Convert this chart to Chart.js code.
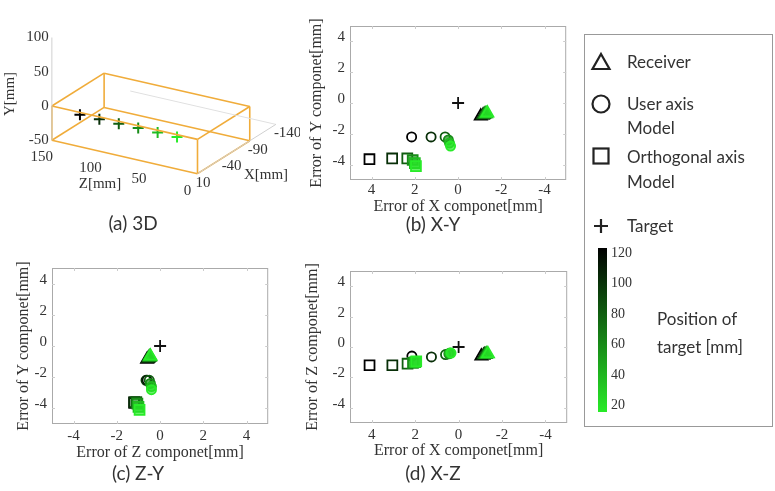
<!DOCTYPE html>
<html><head><meta charset="utf-8">
<script src="https://cdn.jsdelivr.net/npm/chart.js@4.4.0/dist/chart.umd.min.js"></script>
<style>
html,body{margin:0;padding:0;background:#fff;}
body{width:775px;height:491px;overflow:hidden;position:relative;}
.cap{position:absolute;font-family:Lato,'Open Sans',sans-serif;font-size:19px;color:#333;white-space:nowrap;transform:translate(-50%,-50%);}
.lt{position:absolute;font-family:Lato,'Open Sans',sans-serif;font-size:17px;color:#333;white-space:nowrap;transform:translateY(-50%);}
.cb{position:absolute;font-family:'Liberation Serif',serif;font-size:14px;color:#333;white-space:nowrap;transform:translateY(-50%);}
#legend{position:absolute;left:584px;top:34px;width:189px;height:393px;border:1px solid #999;box-sizing:border-box;}
svg{position:absolute;overflow:visible;}
</style></head><body>
<div id="legend"></div>
<script>
// ---------- data ----------
const positions = [120, 100, 80, 60, 40, 20];          // target position [mm]
const receiverX = [-1.05, -1.15, -1.2, -1.25, -1.3, -1.35];
const receiverY = [-0.85, -0.8, -0.75, -0.7, -0.7, -0.65];
const receiverZ = [-0.6, -0.55, -0.5, -0.5, -0.45, -0.45];
const userX = [2.15, 1.25, 0.6, 0.45, 0.4, 0.35];
const userY = [-2.2, -2.2, -2.2, -2.4, -2.6, -2.8];
const userZ = [-0.6, -0.65, -0.5, -0.45, -0.4, -0.4];
const orthoX = [4.1, 3.05, 2.35, 2.1, 2.0, 1.95];
const orthoY = [-3.65, -3.6, -3.6, -3.7, -3.9, -4.1];
const orthoZ = [-1.2, -1.2, -1.1, -1.05, -1.0, -0.95];
const targetErrX = [0], targetErrY = [0], targetErrZ = [0];
const errTicks = [-4, -2, 0, 2, 4];
// 3D view
const target3dX = [12, 12, 12, 12, 12, 12];
const target3dY = [-2, -2, -2, -2, -2, -2];
const target3dZ = positions;
const boxX = [10, -90], boxY = [-50, 0], boxZ = [0, 150];
const tick3dX = [10, -40, -90, -140];
const tick3dY = [-50, 0, 50, 100];
const tick3dZ = [0, 50, 100, 150];
const colorbarTicks = [20, 40, 60, 80, 100, 120];

// ---------- helpers ----------
function colorFor(p, a) {
  const k = 1 - (p - 20) / 100;
  const r = Math.round(40 * k), g = Math.round(235 * k), b = Math.round(40 * k);
  return a === undefined ? `rgb(${r},${g},${b})` : `rgba(${r},${g},${b},${a})`;
}
const borderCols = positions.map(p => colorFor(p));
const fillCols = positions.map(p => p <= 60 ? colorFor(p, 0.7) : 'rgba(0,0,0,0)');
function makeCanvas(left, top, w, h) {
  const c = document.createElement('canvas');
  c.width = w; c.height = h;
  c.style.cssText = `position:absolute;left:${left}px;top:${top}px;width:${w}px;height:${h}px;`;
  document.body.appendChild(c);
  return c;
}
const SERIF = "'Liberation Serif', 'Times New Roman', serif";
const TXT = '#333';

const framePlugin = {
  id: 'frame',
  beforeDatasetsDraw(chart) {
    const {ctx, chartArea: a, scales} = chart;
    ctx.save();
    ctx.strokeStyle = '#aaa'; ctx.lineWidth = 1;
    ctx.strokeRect(a.left + 0.5, a.top + 0.5, a.width - 1, a.height - 1);
    ctx.strokeStyle = '#ccc';
    errTicks.forEach(v => {
      const px = Math.round(scales.x.getPixelForValue(v)) + 0.5;
      const py = Math.round(scales.y.getPixelForValue(v)) + 0.5;
      ctx.beginPath();
      ctx.moveTo(px, a.bottom); ctx.lineTo(px, a.bottom - 3);
      ctx.moveTo(px, a.top); ctx.lineTo(px, a.top + 3);
      ctx.moveTo(a.left, py); ctx.lineTo(a.left + 3, py);
      ctx.moveTo(a.right, py); ctx.lineTo(a.right - 3, py);
      ctx.stroke();
    });
    ctx.restore();
  }
};

function errChart(cv, plot, xs, ys, xReverse, xTitle, yTitle) {
  const c = makeCanvas(cv.left, cv.top, cv.w, cv.h);
  const pts = (a, b) => a.map((v, i) => ({x: v, y: b[i]}));
  const mk = (a, b, style, r) => ({
    data: pts(a, b), pointStyle: style, pointRadius: r, borderWidth: 1.8,
    pointBorderColor: borderCols, pointBackgroundColor: fillCols, showLine: false
  });
  new Chart(c, {
    type: 'scatter',
    data: { datasets: [
      mk(xs.ortho, ys.ortho, 'rect', 7),
      mk(xs.user, ys.user, 'circle', 4.6),
      mk(xs.recv, ys.recv, 'triangle', 7),
      { data: pts(xs.target, ys.target), pointStyle: 'cross', pointRadius: 6, borderWidth: 1.8,
        pointBorderColor: '#111', pointBackgroundColor: '#111' }
    ]},
    options: {
      responsive: false, animation: false, devicePixelRatio: 1,
      layout: { padding: { top: plot.top - cv.top, right: cv.left + cv.w - plot.right, left: 0, bottom: 0 } },
      plugins: { legend: { display: false }, tooltip: { enabled: false } },
      scales: {
        x: {
          type: 'linear', min: -5, max: 5, reverse: xReverse,
          afterBuildTicks: s => { s.ticks = errTicks.map(v => ({ value: v })); },
          afterFit: s => { s.height = cv.top + cv.h - plot.bottom; },
          grid: { display: false, drawTicks: false }, border: { display: false },
          ticks: { font: { family: SERIF, size: 15 }, color: TXT, padding: cv.tp, maxRotation: 0, autoSkip: false },
          title: { display: true, text: xTitle, font: { family: SERIF, size: 16 }, color: TXT, padding: { top: 0, bottom: 4 } }
        },
        y: {
          type: 'linear', min: -5, max: 5,
          afterBuildTicks: s => { s.ticks = errTicks.map(v => ({ value: v })); },
          afterFit: s => { s.width = plot.left - cv.left; },
          grid: { display: false, drawTicks: false }, border: { display: false },
          ticks: { font: { family: SERIF, size: 15 }, color: TXT, padding: 5, labelOffset: -4, autoSkip: false },
          title: { display: true, text: yTitle, font: { family: SERIF, size: 16 }, color: TXT, padding: { top: 4, bottom: 0 } }
        }
      }
    },
    plugins: [framePlugin]
  });
}

// (b) X-Y
errChart({left: 303, top: 8, w: 272, h: 212, tp: 1}, {left: 350, top: 26, right: 567, bottom: 180},
  {ortho: orthoX, user: userX, recv: receiverX, target: targetErrX},
  {ortho: orthoY, user: userY, recv: receiverY, target: targetErrY},
  true, 'Error of X componet[mm]', 'Error of Y componet[mm]');
// (c) Z-Y
errChart({left: 10, top: 250, w: 267, h: 216, tp: 3}, {left: 52, top: 268, right: 269, bottom: 424},
  {ortho: orthoZ, user: userZ, recv: receiverZ, target: targetErrZ},
  {ortho: orthoY, user: userY, recv: receiverY, target: targetErrY},
  false, 'Error of Z componet[mm]', 'Error of Y componet[mm]');
// (d) X-Z
errChart({left: 299, top: 252, w: 277, h: 212, tp: 3}, {left: 350, top: 271, right: 568, bottom: 423},
  {ortho: orthoX, user: userX, recv: receiverX, target: targetErrX},
  {ortho: orthoZ, user: userZ, recv: receiverZ, target: targetErrZ},
  true, 'Error of X componet[mm]', 'Error of Z componet[mm]');

// ---------- (a) 3D ----------
function proj(X, Y, Z) {
  return { x: 200 - 0.55 * (X - 10) - 1.022 * Z,
           y: 177 + 0.35 * (X - 10) - 0.73 * (Y + 50) - 0.237 * Z };
}
(function () {
  const W = 300, H = 245;
  const c = makeCanvas(0, 0, W, H);
  const ds = [];
  const line = (p, q, color, w) => ds.push({ data: [p, q], showLine: true, borderColor: color, borderWidth: w, pointRadius: 0 });
  // faint axis lines
  line(proj(10, -50, 150), proj(10, 100, 150), '#d0d0d0', 1);
  line(proj(10, -50, 0), proj(-140, -50, 0), '#d0d0d0', 1);
  line(proj(-140, -50, 0), proj(-140, -50, 150), '#e0e0e0', 1);
  // box edges
  const corners = [];
  boxX.forEach(x => boxY.forEach(y => boxZ.forEach(z => corners.push([x, y, z]))));
  for (let i = 0; i < corners.length; i++) for (let j = i + 1; j < corners.length; j++) {
    const d = corners[i].filter((v, k) => v !== corners[j][k]).length;
    if (d === 1) line(proj(...corners[i]), proj(...corners[j]), '#f0ac3a', 1.6);
  }
  ds.push({ data: target3dZ.map((z, i) => proj(target3dX[i], target3dY[i], z)), pointStyle: 'cross',
            pointRadius: 5.5, borderWidth: 2, pointBorderColor: borderCols, showLine: false });
  const labels = {
    id: 'labels3d',
    afterDraw(chart) {
      const {ctx, scales: {x, y}} = chart;
      const P = (X, Y, Z) => { const p = proj(X, Y, Z); return [x.getPixelForValue(p.x), y.getPixelForValue(p.y)]; };
      ctx.save();
      ctx.fillStyle = TXT; ctx.font = `15px ${SERIF}`; ctx.textBaseline = 'middle';
      ctx.textAlign = 'right';
      tick3dY.forEach(v => { const [px, py] = P(10, v, 150); ctx.fillText(String(v), px - 3, py); });
      ctx.textAlign = 'center';
      tick3dZ.forEach(v => { const [px, py] = P(10, -50, v); ctx.fillText(String(v), px - 10, py + 17); });
      ctx.textAlign = 'left';
      tick3dX.forEach(v => { const [px, py] = P(v, -50, 0); ctx.fillText(String(v), px - 2, py + 9); });
      ctx.textAlign = 'center';
      ctx.fillText('Z[mm]', 100, 184);
      ctx.fillText('X[mm]', 266, 175);
      ctx.translate(10, 94); ctx.rotate(-Math.PI / 2);
      ctx.fillText('Y[mm]', 0, 0);
      ctx.restore();
    }
  };
  new Chart(c, {
    type: 'scatter',
    data: { datasets: ds },
    options: {
      responsive: false, animation: false, devicePixelRatio: 1,
      layout: { padding: 0 },
      plugins: { legend: { display: false }, tooltip: { enabled: false } },
      scales: {
        x: { type: 'linear', min: 0, max: W, display: false },
        y: { type: 'linear', min: 0, max: H, reverse: true, display: false }
      }
    },
    plugins: [labels]
  });
})();

// ---------- captions ----------
[['(a) 3D', 133, 222], ['(b) X-Y', 433, 223], ['(c) Z-Y', 138, 472], ['(d) X-Z', 433, 472]].forEach(([t, x, y]) => {
  const d = document.createElement('div'); d.className = 'cap'; d.textContent = t;
  d.style.left = x + 'px'; d.style.top = y + 'px'; document.body.appendChild(d);
});

// ---------- legend ----------
function addText(cls, t, x, y) {
  const d = document.createElement('div'); d.className = cls; d.textContent = t;
  d.style.left = x + 'px'; d.style.top = y + 'px'; document.body.appendChild(d);
}
const NS = 'http://www.w3.org/2000/svg';
const svg = document.createElementNS(NS, 'svg');
svg.setAttribute('width', 775); svg.setAttribute('height', 491);
svg.style.left = '0px'; svg.style.top = '0px';
svg.innerHTML =
  '<polygon points="601,54 609.5,69 592.5,69" fill="none" stroke="#222" stroke-width="2.2" stroke-linejoin="miter"/>' +
  '<circle cx="601" cy="104" r="8.5" fill="none" stroke="#222" stroke-width="2.2"/>' +
  '<rect x="593.5" y="148.5" width="15" height="15" fill="none" stroke="#222" stroke-width="2.2"/>' +
  '<path d="M594 226 H608 M601 219 V233" stroke="#222" stroke-width="2.2"/>';
document.body.appendChild(svg);
addText('lt', 'Receiver', 627, 61);
addText('lt', 'User axis', 627, 103);
addText('lt', 'Model', 627, 127);
addText('lt', 'Orthogonal axis', 627, 156);
addText('lt', 'Model', 627, 181);
addText('lt', 'Target', 627, 225);
addText('lt', 'Position of', 657, 318);
addText('lt', 'target [mm]', 657, 346);
const cbTop = 248, cbBot = 412;
const bar = document.createElement('div');
bar.style.cssText = `position:absolute;left:598px;top:${cbTop}px;width:9px;height:${cbBot - cbTop}px;` +
  `background:linear-gradient(to bottom, ${colorFor(120)}, ${colorFor(20)});`;
document.body.appendChild(bar);
colorbarTicks.forEach(v => {
  const y = 405 - (v - 20) / 100 * 152;
  addText('cb', String(v), 611, y);
});
</script>
</body></html>
